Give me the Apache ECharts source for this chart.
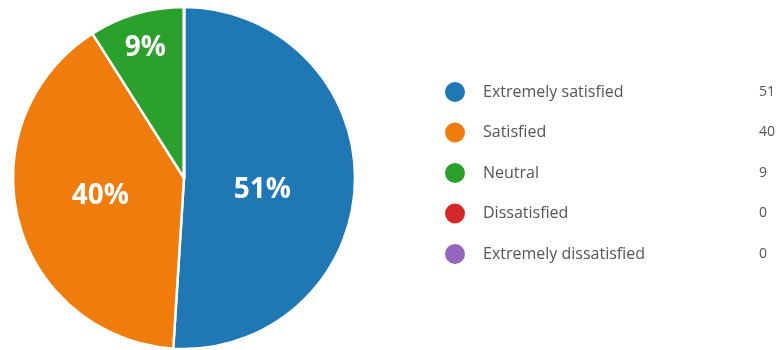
<!DOCTYPE html>
<html><head><meta charset="utf-8">
<script src="https://cdn.jsdelivr.net/npm/echarts@6/dist/echarts.min.js"></script>
<style>html,body{margin:0;padding:0;background:#fff}#c{width:776px;height:350px}</style>
</head><body><div id="c"></div>
<script>
const categories = ["Extremely satisfied", "Satisfied", "Neutral", "Dissatisfied", "Extremely dissatisfied"];
const values = [51, 40, 9, 0, 0];
const colors = ["#1f77b4", "#f07c0e", "#2ca02c", "#d62728", "#9467bd"];

const total = values.reduce((a, b) => a + b, 0);
const chart = echarts.init(document.getElementById('c'), null, {renderer: 'canvas'});
chart.setOption({
  animation: false,
  color: colors,
  legend: {
    orient: 'vertical',
    left: 443,
    top: 80,
    padding: 0,
    icon: 'circle',
    itemWidth: 22,
    itemHeight: 22,
    itemGap: 16.5,
    selectedMode: false,
    data: categories,
    formatter: function (name) {
      const i = categories.indexOf(name);
      return '{a|' + name + '}{b|' + values[i] + '}';
    },
    textStyle: {
      color: '#555',
      fontFamily: 'Open Sans',
      fontSize: 16,
      rich: {
        a: {width: 276, color: '#555', fontFamily: 'Open Sans', fontSize: 16, lineHeight: 20, padding: [0, 0, 0, 12]},
        b: {color: '#555', fontFamily: 'Open Sans', fontSize: 14, lineHeight: 20}
      }
    }
  },
  series: [{
    type: 'pie',
    center: [184, 178],
    radius: 171,
    startAngle: 90,
    clockwise: true,
    silent: true,
    itemStyle: {borderColor: '#fff', borderWidth: 2.5},
    label: {
      show: true,
      position: 'inside',
      color: '#fff',
      fontFamily: 'Open Sans',
      fontWeight: 'bold',
      fontSize: 28,
      formatter: function (p) {
        return p.value > 0 ? Math.round(p.value / total * 100) + '%' : '';
      }
    },
    labelLine: {show: false},
    labelLayout: function (p) {
      if (p.dataIndex === 2) return {dy: -45, dx: -14};
      if (p.dataIndex === 0) return {dx: -10, dy: 9};
      if (p.dataIndex === 1) return {dy: -4, dx: 2};
      return {};
    },
    data: categories.map((n, i) => ({name: n, value: values[i]}))
  }]
});
</script></body></html>
